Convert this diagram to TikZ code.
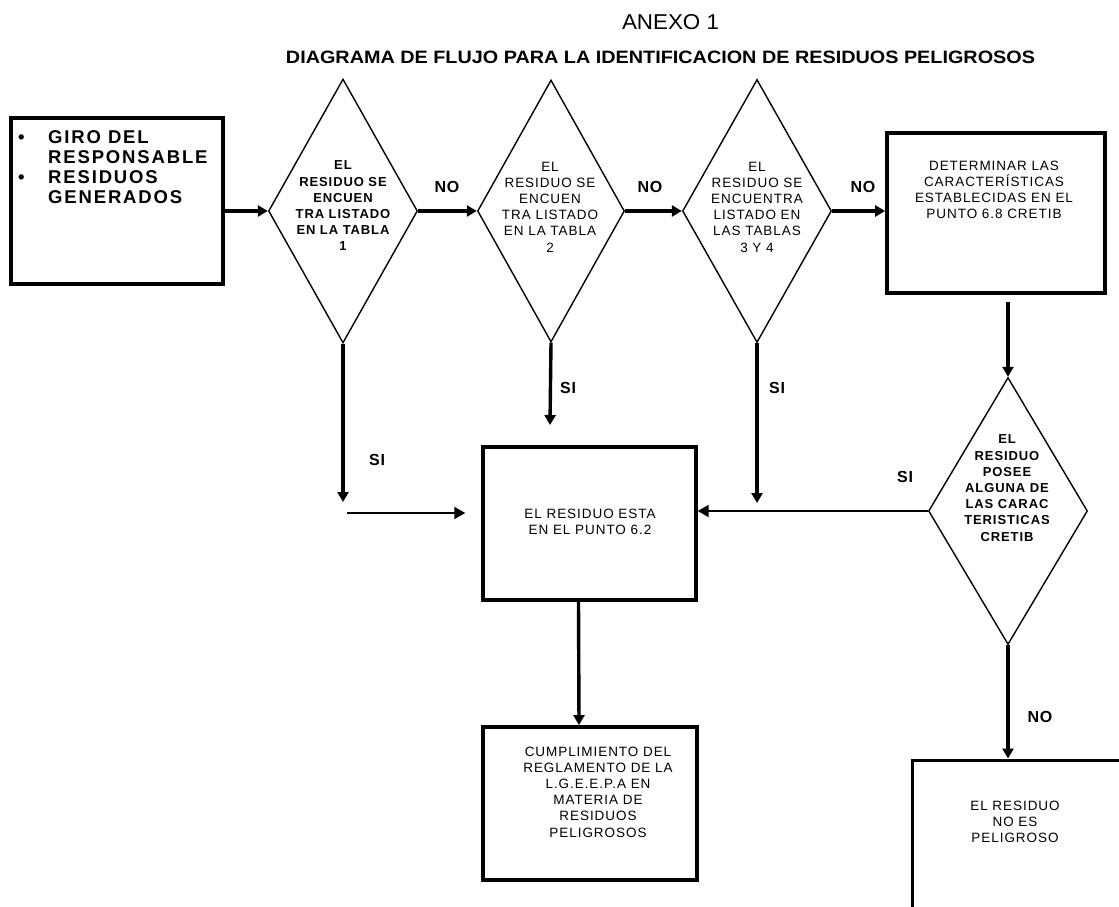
\documentclass[tikz,border=0pt]{standalone}
\usepackage{fontspec}
\usepackage{graphicx}
\setmainfont{Liberation Sans}
\newfontfamily\smallsp[LetterSpace=7]{Liberation Sans}
\newfontfamily\bigsp[LetterSpace=10]{Liberation Sans}
\newfontfamily\labsp[LetterSpace=5]{Liberation Sans}
\usetikzlibrary{shapes.geometric,arrows.meta}
\tikzset{
  dia/.style={draw,shape=diamond,line width=1.4pt,inner sep=0pt},
  boxA/.style={draw,rectangle,line width=3.8pt,inner sep=0pt},
  conn/.style={line width=3.4pt,-{Triangle[length=10pt,width=11pt]}},
  thinconn/.style={line width=2pt,-{Triangle[length=11pt,width=12pt]}},
  txt/.style={align=center,inner sep=0pt,font=\smallsp\fontsize{13.5}{16.2}\selectfont},
  txtb/.style={align=center,inner sep=0pt,font=\smallsp\bfseries\fontsize{13}{16.2}\selectfont},
  lab/.style={inner sep=0pt,font=\labsp\bfseries\fontsize{16}{18}\selectfont}
}
\begin{document}
\begin{tikzpicture}[x=1pt,y=-1pt]
\useasboundingbox (0,0) rectangle (1119,907);
\clip (0,0) rectangle (1119,907);
\fill[white] (0,0) rectangle (1119,907);

% titles
\node[inner sep=0pt] (anexo) at (670.5,22) {\resizebox{97pt}{15pt}{ANEXO 1}};
\node[inner sep=0pt] (title) at (660.5,57) {\resizebox{749pt}{12.5pt}{\bfseries DIAGRAMA DE FLUJO PARA LA IDENTIFICACION DE RESIDUOS PELIGROSOS}};

% boxes
\node[boxA,minimum width=212pt,minimum height=166pt] (giro) at (117,201) {};
\node[anchor=north west,align=left,inner sep=0pt,font=\bigsp\bfseries\fontsize{18.5}{20}\selectfont] (girotxt) at (18,130)
  {\makebox[30pt][l]{\textbullet}GIRO DEL\\\hspace*{30pt}RESPONSABLE\\\makebox[30pt][l]{\textbullet}RESIDUOS\\\hspace*{30pt}GENERADOS};

\node[boxA,minimum width=218pt,minimum height=160pt] (det) at (996,213) {};
\node[txt] (dettxt) at (994,190) {DETERMINAR LAS\\CARACTERÍSTICAS\\ESTABLECIDAS EN EL\\PUNTO 6.8 CRETIB};

\node[boxA,line width=3.4pt,minimum width=213pt,minimum height=153pt] (b62) at (589.5,523.5) {};
\node[txt] (b62txt) at (590,522) {EL RESIDUO ESTA\\EN EL PUNTO 6.2};

\node[boxA,minimum width=214pt,minimum height=153pt] (cum) at (590,803.5) {};
\node[txt] (cumtxt) at (598,792) {CUMPLIMIENTO DEL\\REGLAMENTO DE LA\\L.G.E.E.P.A EN\\MATERIA DE\\RESIDUOS\\PELIGROSOS};

\node[boxA,line width=3pt,minimum width=218pt,minimum height=160pt] (nop) at (1021,840) {};
\node[txt] (noptxt) at (1015,822) {EL RESIDUO\\NO ES\\PELIGROSO};

% diamonds
\node[dia,minimum width=149pt,minimum height=264pt] (d1) at (343,211) {};
\node[txtb] (d1txt) at (343,206) {EL\\RESIDUO SE\\ENCUEN\\TRA LISTADO\\EN LA TABLA\\1};

\node[dia,minimum width=147pt,minimum height=262pt] (d2) at (551,211) {};
\node[txt] (d2txt) at (550,207) {EL\\RESIDUO SE\\ENCUEN\\TRA LISTADO\\EN LA TABLA\\2};

\node[dia,minimum width=149pt,minimum height=263pt] (d3) at (757,211) {};
\node[txt] (d3txt) at (757,207) {EL\\RESIDUO SE\\ENCUENTRA\\LISTADO EN\\LAS TABLAS\\3 Y 4};

\node[dia,minimum width=159pt,minimum height=267pt] (d4) at (1008,511) {};
\node[txtb] (d4txt) at (1007,488) {EL\\RESIDUO\\POSEE\\ALGUNA DE\\LAS CARAC\\TERISTICAS\\CRETIB};

% free ends
\coordinate (s1) at (343,502);
\coordinate (h1) at (347,513);
\coordinate (s2) at (550,425);
\coordinate (s3) at (757,503);

% connectors
\draw[conn] (giro.east |- d1.west) -- (d1.west);
\draw[conn] (d1.east) -- (d2.west);
\draw[conn] (d2.east) -- (d3.west);
\draw[conn] (d3.east) -- (d3.east -| det.west);
\draw[conn,shorten <=7pt] (d4.north |- det.south) -- (d4.north);
\draw[conn] (d1.south) -- (s1);
\draw[thinconn,shorten >=16pt] (h1) -- (h1 -| b62.west);
\draw[conn] (d2.south) -- (s2);
\draw[conn] (d3.south) -- (s3);
\draw[thinconn] (d4.west) -- (d4.west -| b62.east);
\draw[conn] ([xshift=-11pt]b62.south) -- ([xshift=-11pt]cum.north);
\draw[conn] (d4.south) -- (d4.south |- nop.north);

% labels
\node[lab] (no1) at (447,187) {NO};
\node[lab] (no2) at (650,187) {NO};
\node[lab] (no3) at (863,187) {NO};
\node[lab] (no4) at (1040,717) {NO};
\node[lab] (si1) at (377,460) {SI};
\node[lab] (si2) at (568,388) {SI};
\node[lab] (si3) at (777,388) {SI};
\node[lab] (si4) at (905,477) {SI};
\end{tikzpicture}
\end{document}
